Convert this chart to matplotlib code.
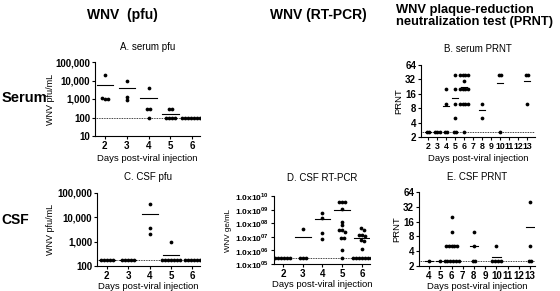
import numpy as np
import matplotlib
matplotlib.use("Agg")
from matplotlib import pyplot as plt

plt.rcParams['font.family'] = ['Liberation Sans', 'DejaVu Sans']
plt.rcParams['font.weight'] = 'bold'
plt.rcParams['mathtext.fontset'] = 'custom'
plt.rcParams['mathtext.rm'] = 'Liberation Sans:bold'
plt.rcParams['mathtext.bf'] = 'Liberation Sans:bold'

# A. serum pfu (WNV pfu/mL)
days_a = [2, 3, 4, 5, 6]
serum_pfu = [
    [20000, 1000, 1000, 1200],
    [10000, 900, 1300],
    [4000, 300, 300, 90],
    [300, 300, 90, 90, 90, 90],
    [90, 90, 90, 90, 90, 90, 90, 90],
]
serum_pfu_limit = 90

# B. serum PRNT
days_b = [2, 3, 4, 5, 6, 8, 10, 13]
serum_prnt = [
    [2.5, 2.5],
    [2.5, 2.5, 2.5],
    [20, 10, 2.5, 2.5],
    [40, 20, 10, 5, 2.5, 2.5],
    [40, 40, 40, 40, 30, 20, 20, 20, 20, 10, 10, 10, 10, 2.5],
    [10, 5],
    [40, 40, 2.5],
    [40, 40, 10],
]
prnt_limit = 2.5

# C. CSF pfu
days_c = [2, 3, 4, 5, 6]
csf_pfu = [
    [170, 170, 170, 170, 170],
    [170, 170, 170, 170, 170],
    [37000, 3700, 2100],
    [1000, 170, 170, 170, 170, 170, 170, 170],
    [170, 170, 170, 170, 170, 170],
]
csf_pfu_limit = 170

# D. CSF RT-PCR (WNV ge/mL)
days_d = [2, 3, 4, 5, 6]
csf_pcr = [
    [3e5, 3e5, 3e5, 3e5, 3e5, 3e5],
    [3.7e7, 3e5, 3e5, 3e5],
    [5.4e8, 2.3e8, 1.8e7, 7e6],
    [3.5e9, 3.5e9, 3.5e9, 1.1e9, 1.3e8, 8e7, 3e7, 3e7, 2.2e7, 8.5e6, 8.5e6, 1e6, 3e5],
    [4.3e7, 3e7, 1.3e7, 1.2e7, 1.3e7, 5.8e6, 5e6, 1.3e6, 3e5, 3e5, 3e5, 3e5, 3e5, 3e5, 3e5],
]
csf_pcr_limit = 3e5

# E. CSF PRNT
days_e = [4, 5, 6, 8, 10, 13]
csf_prnt = [
    [2.5],
    [2.5],
    [20, 10, 5, 5, 5, 5, 5, 2.5, 2.5, 2.5, 2.5, 2.5, 2.5],
    [10, 5, 2.5, 2.5],
    [5, 2.5, 2.5, 2.5, 2.5],
    [40, 5, 2.5, 2.5],
]

W, H = 560, 291
fig = plt.figure(figsize=(W / 100, H / 100), dpi=100)


def px_axes(x0, y0, x1, y1):
    """Axes from pixel box (left, top, right, bottom)"""
    return fig.add_axes([x0 / W, 1 - y1 / H, (x1 - x0) / W, (y1 - y0) / H])


def style(ax, labelsize=7):
    for s in ['top', 'right']:
        ax.spines[s].set_visible(False)
    for s in ['left', 'bottom']:
        ax.spines[s].set_linewidth(0.8)
    ax.tick_params(direction='out', length=2.5, width=0.8, labelsize=labelsize, pad=1)
    ax.minorticks_off()


def ylabel_at(ax, text, x_px, size):
    """Place the y label so its right edge sits at a pixel column"""
    pos = ax.get_position()
    ax.set_ylabel(text, fontsize=size)
    ax.yaxis.set_label_coords((x_px / W - pos.x0) / pos.width, 0.5)


def scatter_groups(ax, days, groups, step_px=3.0, width=0.75):
    """Prism-like column scatter: equal values spread sideways, mean as bar"""
    x0, x1 = ax.get_xlim()
    pos = ax.get_position()
    unit = (x1 - x0) / (pos.width * W)
    for day, vals in zip(days, groups):
        vals = sorted(vals, reverse=True)
        ys = [ax.transData.transform((day, v))[1] for v in vals]
        clusters = []
        for v, y in zip(vals, ys):
            if clusters and abs(clusters[-1][0] - y) < 2.5:
                clusters[-1][1].append(v)
            else:
                clusters.append((y, [v]))
        for _, cl in clusters:
            n = len(cl)
            offs = (np.arange(n) - (n - 1) / 2) * step_px * unit
            ax.plot(day + offs, cl, 'o', ms=2.7, color='k', mew=0, zorder=3)
        m = np.mean(vals)
        ax.plot([day - width / 2, day + width / 2], [m, m], color='k', lw=0.8, zorder=2)


xlab = 'Days post-viral injection'

# A
ax_a = px_axes(95, 62, 200, 136)
ax_a.set_yscale('log')
ax_a.set_ylim(10, 100000)
ax_a.set_xlim(1.55, 6.35)
ax_a.set_yticks([10, 100, 1000, 10000, 100000])
ax_a.set_yticklabels(['10', '100', '1,000', '10,000', '100,000'])
ax_a.set_xticks(days_a)
ax_a.axhline(serum_pfu_limit, color='k', ls=(0, (1, 1)), lw=0.6)
scatter_groups(ax_a, days_a, serum_pfu)
ylabel_at(ax_a, 'WNV pfu/mL', 55, 6.5)
ax_a.set_xlabel(xlab, fontsize=6.8, labelpad=2)
ax_a.set_title('A. serum pfu', fontsize=7, pad=9)
style(ax_a)

# B
ax_b = px_axes(421, 65, 535, 137)
ax_b.set_yscale('log', base=2)
ax_b.set_ylim(2, 64)
ax_b.set_xlim(1.2, 13.9)
ax_b.set_yticks([2, 4, 8, 16, 32, 64])
ax_b.set_yticklabels(['2', '4', '8', '16', '32', '64'])
ax_b.set_xticks(range(2, 14))
ax_b.axhline(prnt_limit, color='k', ls=(0, (1, 1)), lw=0.6)
scatter_groups(ax_b, days_b, serum_prnt, step_px=2.6, width=0.7)
ylabel_at(ax_b, 'PRNT', 403, 6.8)
ax_b.set_xlabel(xlab, fontsize=6.8, labelpad=2)
ax_b.set_title('B. serum PRNT', fontsize=7, pad=9)
style(ax_b)
ax_b.tick_params(axis='x', labelsize=6.3)

# C
ax_c = px_axes(97, 193, 200, 266)
ax_c.set_yscale('log')
ax_c.set_ylim(100, 100000)
ax_c.set_xlim(1.55, 6.35)
ax_c.set_yticks([100, 1000, 10000, 100000])
ax_c.set_yticklabels(['100', '1,000', '10,000', '100,000'])
ax_c.set_xticks(days_c)
ax_c.axhline(csf_pfu_limit, color='k', ls=(0, (1, 1)), lw=0.6)
scatter_groups(ax_c, days_c, csf_pfu)
ylabel_at(ax_c, 'WNV pfu/mL', 55, 6.5)
ax_c.set_xlabel(xlab, fontsize=6.8, labelpad=1)
ax_c.set_title('C. CSF pfu', fontsize=7, pad=9)
style(ax_c)

# D
ax_d = px_axes(274, 196, 370, 264)
ax_d.set_yscale('log')
ax_d.set_ylim(1e5, 1e10)
ax_d.set_xlim(1.55, 6.4)
ax_d.set_yticks([1e5, 1e6, 1e7, 1e8, 1e9, 1e10])
ax_d.set_yticklabels([r'1.0x10$^{%s}$' % s for s in ['05', '06', '07', '08', '09', '10']])
ax_d.set_xticks(days_d)
ax_d.axhline(csf_pcr_limit, color='k', ls=(0, (1, 1)), lw=0.6)
scatter_groups(ax_d, days_d, csf_pcr, step_px=3.0, width=0.8)
ylabel_at(ax_d, 'WNV ge/mL', 232, 5.8)
ax_d.set_xlabel(xlab, fontsize=6.8, labelpad=1)
ax_d.set_title('D. CSF RT-PCR', fontsize=7, pad=11)
style(ax_d)
ax_d.tick_params(axis='y', labelsize=6)

# E
ax_e = px_axes(419, 192, 535, 266)
ax_e.set_yscale('log', base=2)
ax_e.set_ylim(2, 64)
ax_e.set_xlim(3.1, 13.45)
ax_e.set_yticks([2, 4, 8, 16, 32, 64])
ax_e.set_yticklabels(['2', '4', '8', '16', '32', '64'])
ax_e.set_xticks(range(4, 14))
ax_e.axhline(prnt_limit, color='k', ls=(0, (1, 1)), lw=0.6)
scatter_groups(ax_e, days_e, csf_prnt, step_px=2.8, width=0.75)
ylabel_at(ax_e, 'PRNT', 401, 6.8)
ax_e.set_xlabel(xlab, fontsize=6.8, labelpad=1)
ax_e.set_title('E. CSF PRNT', fontsize=7, pad=9)
style(ax_e)

# column and row headings
fig.text(122 / W, 1 - 15 / H, 'WNV  (pfu)', fontsize=10, ha='center', va='center')
fig.text(318 / W, 1 - 15 / H, 'WNV (RT-PCR)', fontsize=10, ha='center', va='center')
fig.text(396 / W, 1 - 16 / H, 'WNV plaque-reduction\nneutralization test (PRNT)', fontsize=9.3,
         ha='left', va='center', linespacing=1.1)
fig.text(2 / W, 1 - 98 / H, 'Serum', fontsize=10.5, ha='left', va='center')
fig.text(1 / W, 1 - 220 / H, 'CSF', fontsize=10, ha='left', va='center')

fig.savefig('out.png', dpi=100)
